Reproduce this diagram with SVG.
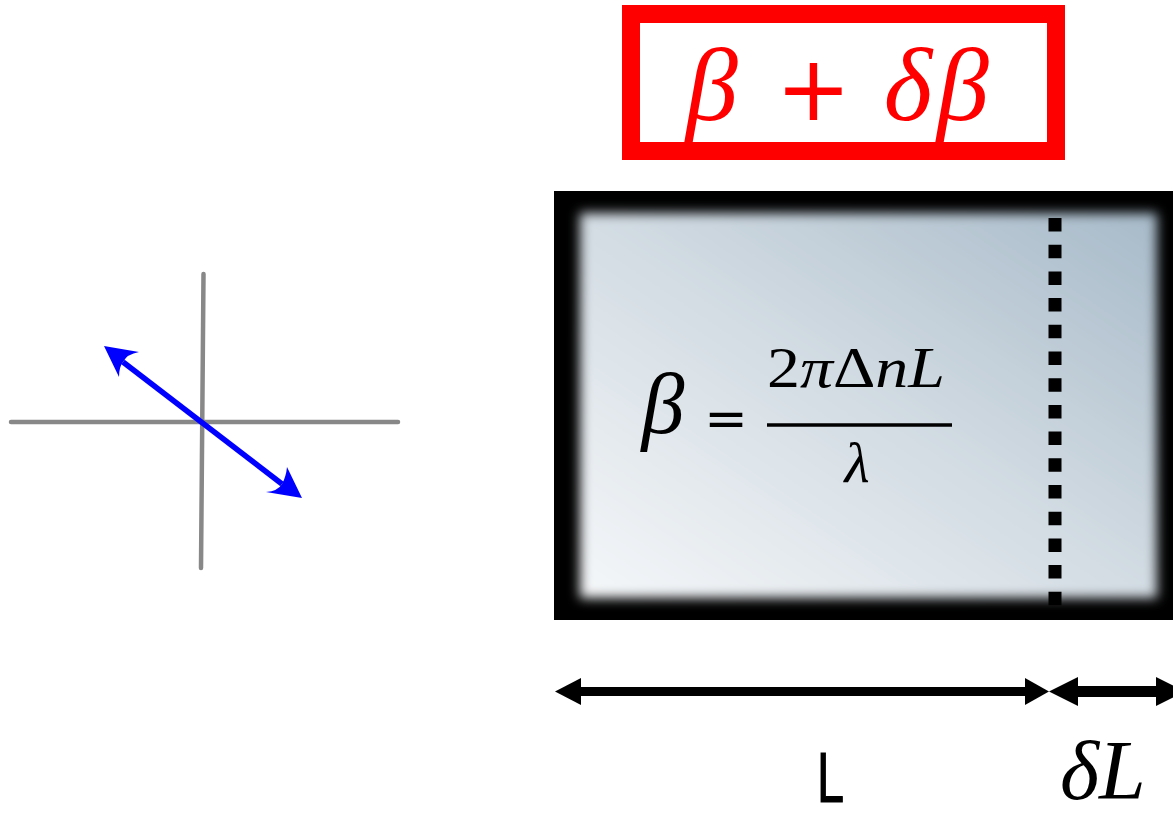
<svg xmlns="http://www.w3.org/2000/svg" width="1173" height="819" viewBox="0 0 1173 819">
<style>
.serif{font-family:"Liberation Serif","DejaVu Serif",serif;font-style:italic;}
.up{font-family:"Liberation Serif","DejaVu Serif",serif;font-style:normal;}
.op{font-family:"DejaVu Sans","Liberation Sans",sans-serif;font-style:normal;}
.axis{stroke:#888888;stroke-width:4.5;stroke-linecap:round;fill:none;}
</style>
<defs>
<linearGradient id="glass" x1="0" y1="1" x2="1" y2="0">
<stop offset="0" stop-color="#f5f7f9"/>
<stop offset="0.5" stop-color="#d3dce3"/>
<stop offset="1" stop-color="#a7bac9"/>
</linearGradient>
<filter id="soft" x="-5%" y="-5%" width="110%" height="110%">
<feGaussianBlur stdDeviation="6"/>
</filter>
</defs>
<rect width="1173" height="819" fill="#ffffff"/>

<g id="beta-label">
<rect x="631" y="14" width="425" height="137" fill="#ffffff" stroke="#ff0000" stroke-width="18"/>
<text class="serif" x="712" y="120" font-size="104" fill="#ff0000" text-anchor="middle">β</text>
<text class="op" x="813.5" y="120" font-size="90" fill="#ff0000" text-anchor="middle">+</text>
<text class="serif" x="908" y="120" font-size="104" fill="#ff0000" text-anchor="middle">δ</text>
<text class="serif" x="963" y="120" font-size="104" fill="#ff0000" text-anchor="middle">β</text>
</g>

<g id="crystal">
<rect x="554" y="191" width="630" height="429" fill="#000000"/>
<rect x="580" y="213" width="577" height="385" fill="url(#glass)" filter="url(#soft)"/>
<line x1="1055" y1="218" x2="1055" y2="606" stroke="#000000" stroke-width="13" stroke-dasharray="13.5 13.2"/>
<text class="serif" x="663" y="433" font-size="86" fill="#000000" text-anchor="middle">β</text>
<text class="op" x="726" y="436" font-size="52" fill="#000000" text-anchor="middle">=</text>
<text class="serif" x="767" y="387" font-size="58" fill="#000000" textLength="178" lengthAdjust="spacingAndGlyphs"><tspan class="up">2</tspan>π<tspan class="up">Δ</tspan>nL</text>
<line x1="767" y1="425" x2="952" y2="425" stroke="#000000" stroke-width="3.5"/>
<text class="serif" x="857" y="482" font-size="58" fill="#000000" text-anchor="middle">λ</text>
</g>

<g id="polarization">
<line class="axis" x1="11" y1="422" x2="398" y2="422"/>
<line class="axis" x1="203.5" y1="274" x2="201" y2="568"/>
<line x1="123" y1="362" x2="282" y2="484" stroke="#0000ff" stroke-width="5.5"/>
<path d="M104,346 L139,352 Q127,354 123,362 Q119,367 119,377 Z" fill="#0000ff"/>
<path d="M302,498 L266,492 Q278,491 282,484 Q286,477 287,467 Z" fill="#0000ff"/>
</g>

<g id="connectors">
<line x1="578" y1="691.5" x2="1027" y2="691.5" stroke="#000000" stroke-width="9"/>
<path d="M555,691.5 L581,678 L581,705 Z" fill="#000000"/>
<path d="M1049,691.5 L1025,678 L1025,705 Z" fill="#000000"/>
<line x1="1075" y1="691.5" x2="1160" y2="691.5" stroke="#000000" stroke-width="11"/>
<path d="M1049,691.5 L1078,677 L1078,706 Z" fill="#000000"/>
<path d="M1185,691.5 L1156,677 L1156,706 Z" fill="#000000"/>
</g>

<g id="length-labels">
<text x="830.5" y="802" font-family="Liberation Sans, Arial, sans-serif" font-size="70" fill="#000000" stroke="#000000" stroke-width="1.2" text-anchor="middle" textLength="27" lengthAdjust="spacingAndGlyphs">L</text>
<text class="serif" x="1060" y="799" font-size="84" fill="#000000">δL</text>
</g>
</svg>
